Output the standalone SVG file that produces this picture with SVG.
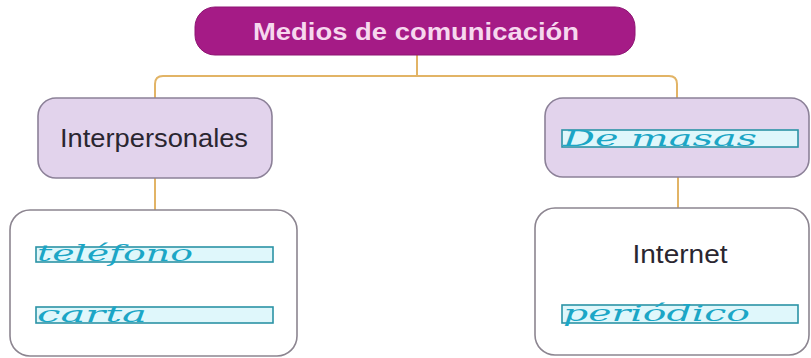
<svg xmlns="http://www.w3.org/2000/svg" width="811" height="358" viewBox="0 0 811 358">
<style>
.lbl{font-family:"Liberation Sans",Arial,sans-serif;font-size:25px;fill:#2a2630;text-anchor:middle}
.title{font-family:"Liberation Sans",Arial,sans-serif;font-size:24px;font-weight:bold;fill:#f6d8ee;text-anchor:middle}
.hw{font-family:"DejaVu Serif","Liberation Serif",serif;font-style:italic;font-size:22px;fill:#1ba6c6}
.rule{fill:#dff7fb;stroke:#2b93a6;stroke-width:1.6}
.box{fill:#ffffff;stroke:#8c8590;stroke-width:1.6}
.lav{fill:#e2d3ec;stroke:#8c8198;stroke-width:1.6}
.con{fill:none;stroke:#e2b466;stroke-width:2}
</style>
<rect width="811" height="358" fill="#ffffff"/>
<g id="connectors">
<path class="con" d="M417 55 V76"/>
<path class="con" d="M155 98 V84 Q155 76 163 76 H669 Q677 76 677 84 V98"/>
<path class="con" d="M155 178 V210"/>
<path class="con" d="M678 177 V208"/>
</g>
<g id="node-title">
<rect x="195" y="7" width="440" height="48" rx="20" fill="#a51b86" stroke="#8e1573" stroke-width="1"/>
<text class="title" x="416" y="40" textLength="326" lengthAdjust="spacingAndGlyphs">Medios de comunicación</text>
</g>
<g id="node-interpersonales">
<rect class="lav" x="38" y="98" width="234" height="80" rx="18"/>
<text class="lbl" x="154" y="147" textLength="188" lengthAdjust="spacingAndGlyphs">Interpersonales</text>
</g>
<g id="node-masas">
<rect class="lav" x="545" y="98" width="264" height="79" rx="18"/>
<rect class="rule" x="562" y="130" width="236" height="17"/>
<text class="hw" x="563" y="146" textLength="194" lengthAdjust="spacingAndGlyphs">De masas</text>
</g>
<g id="node-interpersonales-ej">
<rect class="box" x="10" y="210" width="287" height="146" rx="20"/>
<rect class="rule" x="36" y="247" width="237" height="15"/>
<text class="hw" x="37" y="261" textLength="156" lengthAdjust="spacingAndGlyphs">teléfono</text>
<rect class="rule" x="36" y="307" width="237" height="16"/>
<text class="hw" x="37" y="322" textLength="110" lengthAdjust="spacingAndGlyphs">carta</text>
</g>
<g id="node-masas-ej">
<rect class="box" x="535" y="208" width="274" height="147" rx="20"/>
<text class="lbl" x="680" y="263" textLength="95" lengthAdjust="spacingAndGlyphs">Internet</text>
<rect class="rule" x="562" y="305" width="236" height="18"/>
<text class="hw" x="563" y="321" textLength="187" lengthAdjust="spacingAndGlyphs">periódico</text>
</g>
</svg>
